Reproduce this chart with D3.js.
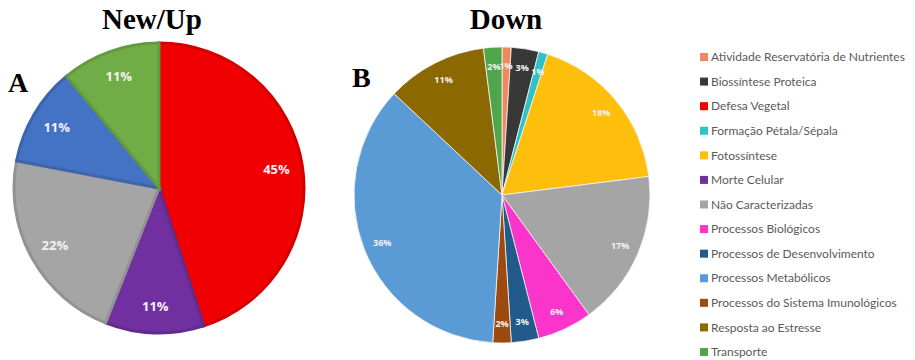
<!DOCTYPE html>
<html>
<head>
<meta charset="utf-8">
<script src="https://cdn.jsdelivr.net/npm/d3@7"></script>
<style>
  body { margin: 0; background: #fff; }
  svg { display: block; }
</style>
</head>
<body>
<svg id="chart" width="915" height="360"></svg>
<script>
// legend order (alphabetical, as in the source)
const legendLabels = [
  "Atividade Reservatória de Nutrientes",
  "Biossíntese Proteica",
  "Defesa Vegetal",
  "Formação Pétala/Sépala",
  "Fotossíntese",
  "Morte Celular",
  "Não Caracterizadas",
  "Processos Biológicos",
  "Processos de Desenvolvimento",
  "Processos Metabólicos",
  "Processos do Sistema Imunológicos",
  "Resposta ao Estresse",
  "Transporte"
];

// A - New/Up
const upLabels = ["Defesa Vegetal", "Morte Celular", "Não Caracterizadas", "Processos Metabólicos", "Transporte"];
const upValues = [45, 11, 22, 11, 11];

// B - Down (pie order)
const downLabels = [
  "Atividade Reservatória de Nutrientes", "Biossíntese Proteica", "Formação Pétala/Sépala",
  "Fotossíntese", "Não Caracterizadas", "Processos Biológicos", "Processos de Desenvolvimento",
  "Processos do Sistema Imunológicos", "Processos Metabólicos", "Resposta ao Estresse", "Transporte"
];
const downValues = [1, 3, 1, 18, 17, 6, 3, 2, 36, 11, 2];

const palette = [
  "#F0895E", "#383838", "#F00000", "#2FC3C8", "#FDBE0C", "#7030A0", "#A5A5A5",
  "#FB34CC", "#225A8C", "#5B9BD5", "#9C4A10", "#8C6800", "#4FA64A"
];
const color = d3.scaleOrdinal().domain(legendLabels).range(palette);

const svg = d3.select("#chart");

function drawPie(labels, values, cx, cy, r, opt) {
  let data = labels.map((l, i) => ({ label: l, value: values[i] }));
  let pie = d3.pie().sort(null).value(d => d.value);
  let arc = d3.arc().innerRadius(0).outerRadius(r);
  let labelArc = d3.arc().innerRadius(r * opt.labelPos).outerRadius(r * opt.labelPos);

  let g = svg.append("g").attr("transform", "translate(" + cx + "," + cy + ")");

  g.selectAll("path").data(pie(data)).enter().append("path")
    .attr("d", arc)
    .attr("fill", d => (opt.colors && opt.colors[d.data.label]) || color(d.data.label))
    .attr("stroke", d => opt.stroke === "dark"
      ? d3.color((opt.colors && opt.colors[d.data.label]) || color(d.data.label)).darker(0.35)
      : "#f4f4f4")
    .attr("stroke-width", opt.strokeWidth);

  g.selectAll("text").data(pie(data)).enter().append("text")
    .attr("transform", d => "translate(" + labelArc.centroid(d) + ")")
    .attr("text-anchor", "middle")
    .attr("dy", "0.35em")
    .style("font-family", "'Open Sans', sans-serif")
    .style("font-weight", "bold")
    .style("font-size", opt.fontSize + "px")
    .style("fill", "#f2f2f2")
    .text(d => d.data.value + "%");
}

drawPie(upLabels, upValues, 159, 188, 145,
  { labelPos: 0.82, fontSize: 13, stroke: "dark", strokeWidth: 3,
    colors: { "Processos Metabólicos": "#4472C4", "Transporte": "#70AD47" } });

drawPie(downLabels, downValues, 502, 195, 148,
  { labelPos: 0.87, fontSize: 9, stroke: "light", strokeWidth: 0.8 });

// titles
const serif = "'Liberation Serif', 'Times New Roman', serif";
svg.append("text").attr("x", 152).attr("y", 29).attr("text-anchor", "middle")
  .style("font-family", serif).style("font-weight", "bold").style("font-size", "29px")
  .text("New/Up");
svg.append("text").attr("x", 506).attr("y", 29).attr("text-anchor", "middle")
  .style("font-family", serif).style("font-weight", "bold").style("font-size", "29px")
  .text("Down");
svg.append("text").attr("x", 8).attr("y", 92)
  .style("font-family", serif).style("font-weight", "bold").style("font-size", "28px")
  .text("A");
svg.append("text").attr("x", 352).attr("y", 87)
  .style("font-family", serif).style("font-weight", "bold").style("font-size", "28px")
  .text("B");

// legend
const ly = d3.scalePoint().domain(legendLabels).range([57, 352]);
let leg = svg.append("g").selectAll("g").data(legendLabels).enter().append("g")
  .attr("transform", d => "translate(700," + ly(d) + ")");
leg.append("rect").attr("x", 0).attr("y", -4).attr("width", 8).attr("height", 8)
  .attr("fill", d => color(d));
leg.append("text").attr("x", 11).attr("dy", "0.35em")
  .style("font-family", "Lato, sans-serif").style("font-size", "12px")
  .style("fill", "#5a5a5a")
  .text(d => d);
</script>
</body>
</html>
